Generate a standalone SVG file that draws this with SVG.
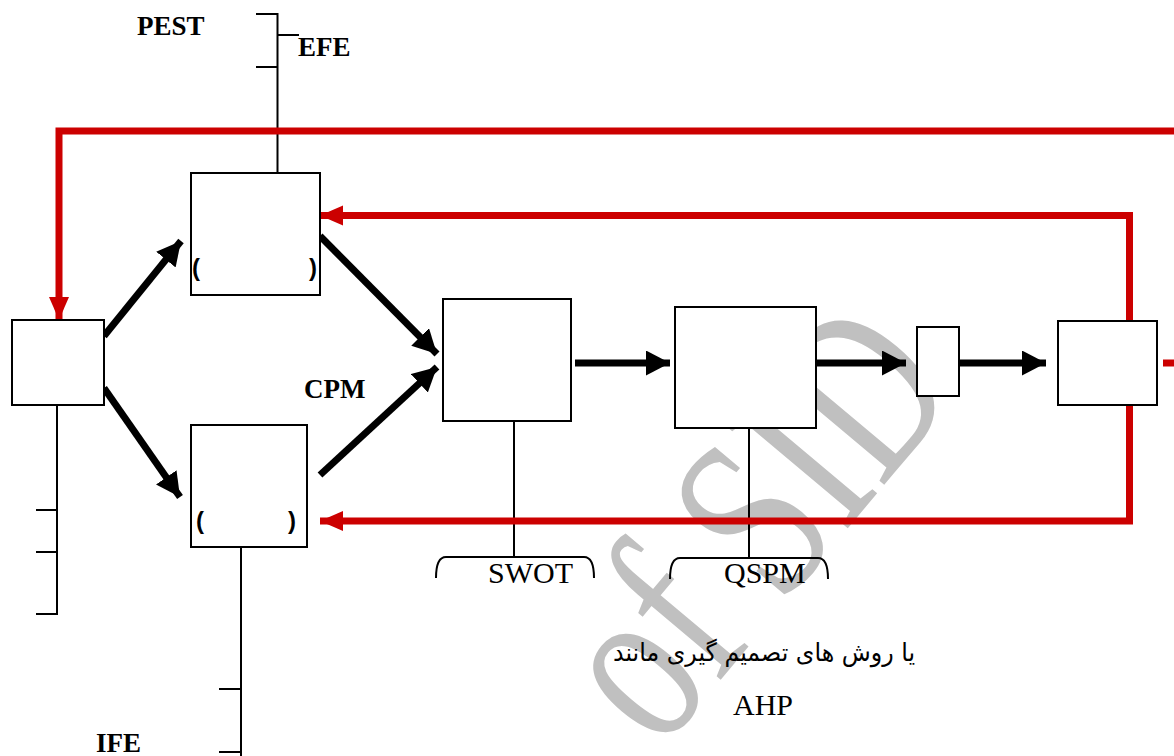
<svg xmlns="http://www.w3.org/2000/svg" width="1174" height="756" viewBox="0 0 1174 756">
<style>
.box{fill:#fff;stroke:#000;stroke-width:2}
.thin{fill:none;stroke:#000;stroke-width:2}
.blk{fill:none;stroke:#000;stroke-width:7}
.red{fill:none;stroke:#cc0000;stroke-width:7}
.lbl{font-family:"Liberation Serif",serif;font-weight:bold;font-size:27px;fill:#000}
.tx{font-family:"Liberation Serif",serif;font-size:30px;fill:#000}
.par{font-family:"Liberation Sans",sans-serif;font-weight:bold;font-size:24px;fill:#000}
.fa{font-family:"DejaVu Sans","Noto Sans",sans-serif;font-size:25px;fill:#000}
.wm{font-family:"Liberation Serif",serif;font-size:240px;fill:#c0c0c0}
</style>
<defs>
<marker id="ab" markerUnits="userSpaceOnUse" markerWidth="25" markerHeight="26" refX="24" refY="12.5" orient="auto"><path d="M0,0 L24,12.5 L0,25 Z" fill="#000"/></marker>
<marker id="ar" markerUnits="userSpaceOnUse" markerWidth="24" markerHeight="22" refX="23" refY="10" orient="auto"><path d="M0,0 L23,10 L0,20 Z" fill="#cc0000"/></marker>
</defs>
<g id="watermark">
<text class="wm" transform="translate(962,392) rotate(-50)" text-anchor="end" textLength="470" lengthAdjust="spacingAndGlyphs">of SID</text>
</g>
<g id="connectors">
<path class="thin" d="M256,14 H277.5 V173 M277.5,35 H299 M256,67 H277.5"/>
<path class="thin" d="M57,405 V614 H36 M36,510 H57 M36,552 H57"/>
<path class="thin" d="M241,547 V756 M219,689 H241 M219,752 H241"/>
<path class="thin" d="M514,421 V557 M436,578 Q436,557 446,557 H584 Q594,557 594,578"/>
<path class="thin" d="M749,428 V558 M670,579 Q670,558 680,558 H818 Q828,558 828,579"/>
<line class="blk" x1="104" y1="336" x2="181" y2="241" marker-end="url(#ab)"/>
<line class="blk" x1="104" y1="388" x2="180" y2="497" marker-end="url(#ab)"/>
<line class="blk" x1="320" y1="236" x2="437" y2="354" marker-end="url(#ab)"/>
<line class="blk" x1="320" y1="475" x2="437" y2="367" marker-end="url(#ab)"/>
<line class="blk" x1="575" y1="363" x2="670" y2="363" marker-end="url(#ab)"/>
<line class="blk" x1="816" y1="363" x2="906" y2="363" marker-end="url(#ab)"/>
<line class="blk" x1="959" y1="363" x2="1046" y2="363" marker-end="url(#ab)"/>
<path class="red" d="M1174,131 H59 V320" marker-end="url(#ar)"/>
<path class="red" d="M1129.5,321 V215.5 H320" marker-end="url(#ar)"/>
<path class="red" d="M1129.5,405 V521 H320" marker-end="url(#ar)"/>
<path class="red" d="M1163,363 H1174"/>
</g>
<g id="n-start"><rect class="box" x="12" y="320" width="92" height="85"/></g>
<g id="n-external"><rect class="box" x="191" y="173" width="129" height="122"/>
<text class="par" x="192" y="276">(</text><text class="par" x="309" y="276">)</text></g>
<g id="n-internal"><rect class="box" x="191" y="425" width="116" height="122"/>
<text class="par" x="196" y="529">(</text><text class="par" x="288" y="529">)</text></g>
<g id="n-swot"><rect class="box" x="443" y="299" width="128" height="122"/></g>
<g id="n-qspm"><rect class="box" x="675" y="307" width="141" height="121"/></g>
<g id="n-small"><rect class="box" x="917" y="327" width="42" height="69"/></g>
<g id="n-end"><rect class="box" x="1058" y="321" width="99" height="84"/></g>
<g id="labels">
<text class="lbl" x="137" y="35">PEST</text>
<text class="lbl" x="298" y="56">EFE</text>
<text class="lbl" x="304" y="398">CPM</text>
<text class="lbl" x="96" y="752">IFE</text>
<text class="tx" x="488" y="583">SWOT</text>
<text class="tx" x="724" y="583">QSPM</text>
<text class="tx" x="733" y="715">AHP</text>
<text class="fa" x="764" y="661" text-anchor="middle" textLength="302" lengthAdjust="spacingAndGlyphs">یا روش های تصمیم گیری مانند</text>
</g>
</svg>
